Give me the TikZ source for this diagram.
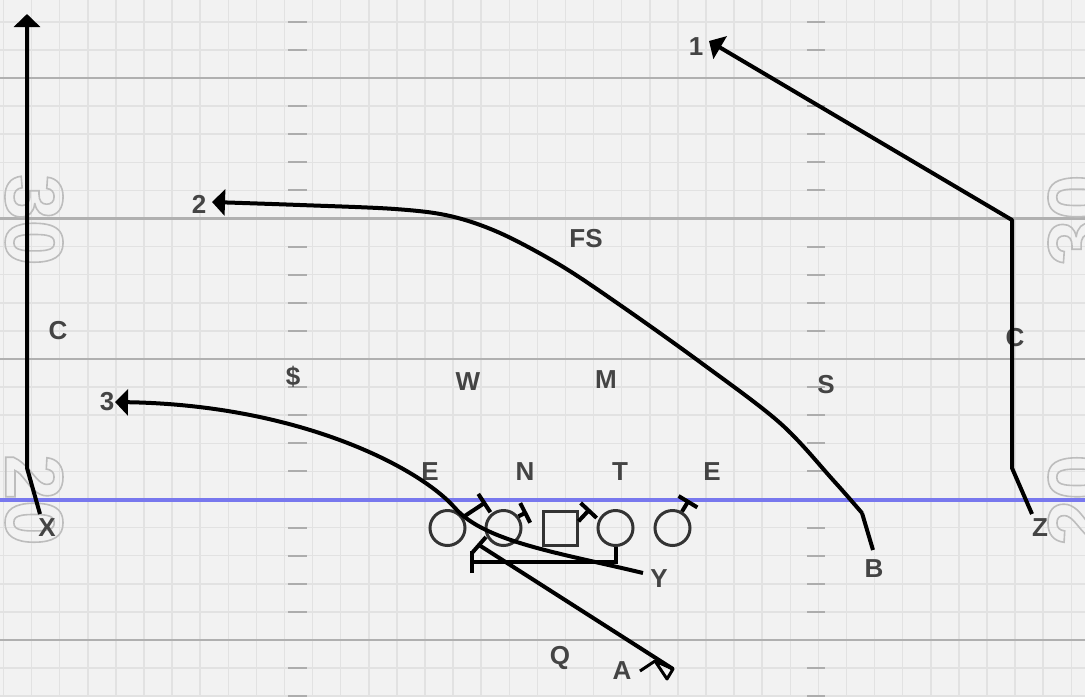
\documentclass[tikz,border=0pt]{standalone}
\usepackage{fontspec}
\setmainfont{Liberation Sans}
\usetikzlibrary{arrows.meta}
\definecolor{fieldbg}{HTML}{F2F2F2}
\definecolor{gridgray}{HTML}{E2E2E2}
\definecolor{yardgray}{HTML}{B0B0B0}
\definecolor{hashgray}{HTML}{ADADAD}
\definecolor{scrimblue}{HTML}{7878EE}
\definecolor{labgray}{HTML}{444444}
\definecolor{numgray}{HTML}{BDBDBD}
\tikzset{
  lab/.style={text=labgray, font=\bfseries\fontsize{26}{26}\selectfont, inner sep=0pt},
  yardnum/.style={text=numgray, font=\bfseries\fontsize{82}{82}\selectfont, inner sep=0pt},
  man/.style={circle, draw=black!80, line width=3pt, minimum size=35pt, inner sep=0pt},
  route/.style={line width=4pt, line join=round, -{Triangle[width=26pt,length=13pt]}},
  blk/.style={line width=4pt, -{Bar[width=22pt]}},
}
% outlined digits (stroke only)
\newcommand{\hollow}[1]{\special{pdf:literal 1 Tr 1.6 w}#1\special{pdf:literal 0 Tr}}
\begin{document}
\begin{tikzpicture}[x=1pt,y=-1pt]
\useasboundingbox (0,0) rectangle (1085,697);
\fill[fieldbg] (0,0) rectangle (1085,697);
% grid
\foreach \gx in {0,...,38}
  \draw[gridgray, line width=1.5pt] ({3.5+28.1*\gx},0) -- ++(0,697);
\foreach \gy in {-2,...,22}
  \draw[gridgray, line width=1.5pt] (0,{78+28.1*\gy}) -- ++(1085,0);
% hash marks
\foreach \yd in {-1,...,4}
  \foreach \k in {1,...,4} {
    \draw[hashgray, line width=2pt] (288,{78+140.5*\yd+28.1*\k}) -- ++(19,0);
    \draw[hashgray, line width=2pt] (807,{78+140.5*\yd+28.1*\k}) -- ++(18,0);
  }
% yard lines
\foreach \yl in {78,218.5,359,640}
  \draw[yardgray, line width=2.5pt] (0,\yl) -- (1085,\yl);
\draw[scrimblue, line width=4pt] (0,499.5) -- (1085,499.5);
% yard numbers
\node[yardnum, rotate=-90] (n30l) at (34,220) {\hollow{30}};
\node[yardnum, rotate=-90] (n20l) at (34,500) {\hollow{20}};
\node[yardnum, rotate=90] (n30r) at (1077,220) {\hollow{30}};
\node[yardnum, rotate=90] (n20r) at (1077,500) {\hollow{20}};
% defense
\node[lab] (fs) at (586,239) {FS};
\node[lab] (cl) at (58,331) {C};
\node[lab] (cr) at (1015,338) {C};
\node[lab] (ss) at (293,377) {\$};
\node[lab] (wl) at (468,382) {W};
\node[lab] (ml) at (606,380) {M};
\node[lab] (sl) at (826,385) {S};
\node[lab] (el) at (430,472) {E};
\node[lab] (nt) at (525,472) {N};
\node[lab] (tl) at (620,472) {T};
\node[lab] (er) at (712,472) {E};
% offense
\node[man] (lt) at (447.5,528) {};
\node[man] (lg) at (503.5,528) {};
\node[draw=black!80, line width=3pt, minimum size=34pt, inner sep=0pt] (ctr) at (560,528) {};
\node[man] (rg) at (615.5,528) {};
\node[man] (rt) at (672.5,528) {};
\node[lab] (xr) at (47,528) {X};
\node[lab] (zr) at (1040,528) {Z};
\node[lab] (br) at (874,569) {B};
\node[lab] (yr) at (659,579) {Y};
\node[lab] (qb) at (560,658) {Q};
\node[lab] (ab) at (622,671) {A};
\node[lab] (r1) at (696,47) {1};
\node[lab] (r2) at (199,204) {2};
\node[lab] (r3) at (107,402) {3};
% routes
\draw[route] (40,514) -- (27,468) -- (27,14);
\draw[route] (1032,514) -- (1012,468) -- (1012,220) -- (709,41);
\draw[route] (873,550) -- (862,513)
  plot[smooth, tension=0.55] coordinates {(862,513) (833,480) (780,423) (700,362) (620,305) (560,265) (500,233) (450,216) (395,209) (300,205) (212,202)};
\draw[route] (643,573) .. controls (560,553) and (485,542) .. (455,508)
  .. controls (420,468) and (300,405) .. (115,402);
% blocks
\draw[blk] (lt.35) -- (486,502);
\draw[blk] (lg.38) -- (527,512);
\draw[blk] (ctr.20) -- (590,509);
\draw[blk] (rt.60) -- (689,500);
\draw[blk] (rg.south) -- (615.5,562) -- (470,562);
\draw[line width=4pt] (673,669) -- (479,545);
\draw[line width=4pt] (472,553) -- (486,537);
\draw[line width=3pt] (640,671) -- (655,661);
\draw[line width=3pt, line join=round] (655,661) -- (673,669) -- (667,679) -- cycle;
\end{tikzpicture}
\end{document}
